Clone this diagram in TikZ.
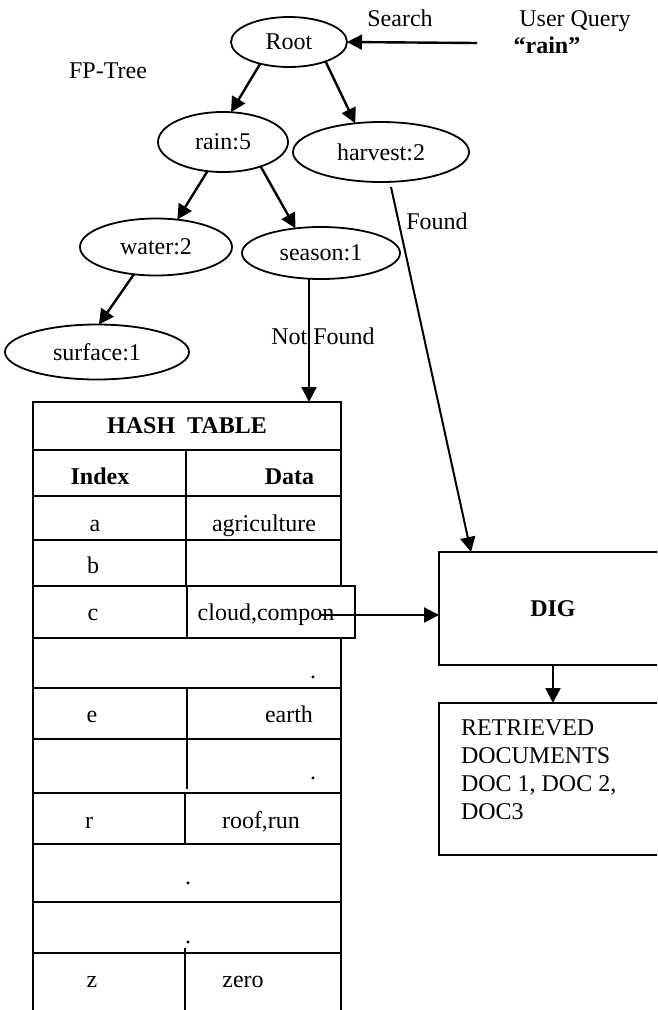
\documentclass[tikz,border=0pt]{standalone}
\usepackage{fontspec}
\setmainfont{Liberation Serif}
\usetikzlibrary{shapes.geometric,arrows.meta,calc}
\begin{document}
\begin{tikzpicture}[x=1pt,y=-1pt,
  every node/.style={font=\fontsize{24}{28}\selectfont, inner sep=0pt, outer sep=0pt},
  ell/.style={draw, ellipse, line width=1.8pt, inner sep=0pt},
  arr/.style={line width=2.4pt, -{Triangle[length=15pt,width=15pt]}},
  plain/.style={line width=2pt},
  cell/.style={draw, rectangle, line width=1.8pt},
  bx/.style={line width=1.8pt},
  txt/.style={anchor=base},
  btxt/.style={anchor=base, font=\fontsize{24}{28}\selectfont\bfseries}
]
\useasboundingbox (0,0) rectangle (657,1010);
\fill[white] (0,0) rectangle (657,1010);
\clip (0,0) rectangle (657,1010);

% ---------- FP-tree ----------
\node[ell, minimum width=116pt, minimum height=50pt] (root) at (289,42) {Root};
\node[ell, minimum width=130pt, minimum height=60pt] (rain) at (223,142) {rain:5};
\node[ell, minimum width=176pt, minimum height=60pt] (harvest) at (381,152) {harvest:2};
\node[ell, minimum width=152pt, minimum height=57pt] (water) at (156,247) {water:2};
\node[ell, minimum width=158pt, minimum height=52pt] (season) at (321,253) {season:1};
\node[ell, minimum width=184pt, minimum height=55pt] (surface) at (97,352) {surface:1};

\node[txt] (search) at (400,26) {Search};
\node[txt] (uq) at (575,26) {User Query};
\node[btxt] (qrain) at (547,53) {“rain”};
\node[txt] (fptree) at (108,78) {FP-Tree};
\node[txt] (found) at (437,229) {Found};
\node[txt] (notfound) at (323,344) {Not Found};

\coordinate (qstart) at (477,43);
\draw[arr] (qstart) -- (root.east);
\draw[arr] (root.217) -- (rain.75);
\draw[arr] (root.332) -- (harvest.132);
\draw[arr] (rain.242) -- (water.52);
\draw[arr] (rain.327) -- (season.136);
\draw[arr] (water.231) -- (surface.86);

% ---------- Hash table ----------
\node[cell, minimum width=308pt, minimum height=48pt] (htitle) at (187,426) {\bfseries HASH\ \ TABLE};
\node[cell, minimum width=308pt, minimum height=46pt] (rowidx) at (187,473) {};
\node[cell, minimum width=308pt, minimum height=44pt] (rowa) at (187,518) {};
\node[cell, minimum width=308pt, minimum height=46pt] (rowb) at (187,563) {};
\node[cell, minimum width=154pt, minimum height=52pt] (rowcl) at (110,612) {};
\node[cell, minimum width=168pt, minimum height=52pt] (rowcr) at (271,612) {};
\node[cell, minimum width=308pt, minimum height=50pt] (rowd1) at (187,663) {};
\node[cell, minimum width=308pt, minimum height=51pt] (rowe) at (187,713.5) {};
\node[cell, minimum width=308pt, minimum height=54pt] (rowf) at (187,766) {};
\node[cell, minimum width=308pt, minimum height=51pt] (rowr) at (187,818.5) {};
\node[cell, minimum width=308pt, minimum height=58pt] (rowd3) at (187,873) {};
\node[cell, minimum width=308pt, minimum height=51pt] (rowd4) at (187,927.5) {};
\node[cell, minimum width=308pt, minimum height=87pt] (rowz) at (187,996.5) {};

\draw[bx] (186,450) -- (186,586);
\draw[bx] (187,688) -- (187,739);
\draw[bx] (187,739) -- (187,789);
\draw[bx] (185,793) -- (185,844);
\draw[bx] (185,948) -- (185,1015);

\node[btxt] (tindex) at (100,484) {Index};
\node[btxt] (tdata) at (289.5,484) {Data};
\node[txt] (ta) at (95,531) {a};
\node[txt] (tagri) at (264,531) {agriculture};
\node[txt] (tb) at (93,573) {b};
\node[txt] (tc) at (93,620) {c};
\node[txt] (tcloud) at (266,620) {cloud,compon};
\node[txt] (dot1) at (313,678) {.};
\node[txt] (te) at (92,722) {e};
\node[txt] (tearth) at (289,722) {earth};
\node[txt] (dot2) at (313,779) {.};
\node[txt] (tr) at (89,828) {r};
\node[txt] (troof) at (261,828) {roof,run};
\node[txt] (dot3) at (188,884) {.};
\node[txt] (dot4) at (188,943) {.};
\node[txt] (tz) at (92,987) {z};
\node[txt] (tzero) at (243,987) {zero};

% ---------- DIG and results ----------
\node[cell, minimum width=228pt, minimum height=113pt] (dig) at (553,608.5) {\bfseries DIG};
\node[cell, minimum width=228pt, minimum height=152pt] (ret) at (553,779) {};
\node[anchor=base west] (ret1) at (461,735) {RETRIEVED};
\node[anchor=base west] (ret2) at (461,763) {DOCUMENTS};
\node[anchor=base west] (ret3) at (461,791) {DOC 1, DOC 2,};
\node[anchor=base west] (ret4) at (461,819) {DOC3};

\draw[arr] ([xshift=-12pt]season.south) -- ([xshift=-12pt]season.south |- htitle.north);
\draw[plain, -{Triangle[length=15pt,width=15pt]}] ([xshift=10pt,yshift=-5pt]harvest.south) -- ($(dig.north west)+(32,0)$);
\coordinate (cstart) at (320,615);
\draw[arr] (cstart) -- (cstart -| dig.west);
\draw[arr] (dig.south) -- (ret.north);
\end{tikzpicture}
\end{document}
